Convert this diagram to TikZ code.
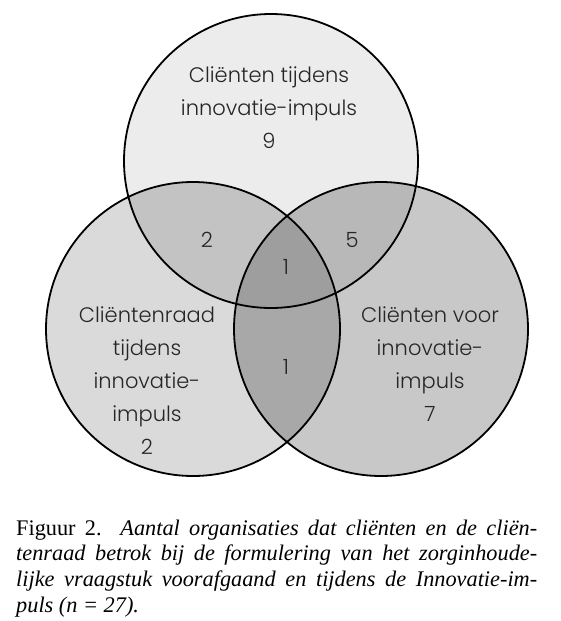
\documentclass[tikz,border=0pt]{standalone}
\usepackage{fontspec}
\newfontfamily\vennfont{Poppins Light}
\newfontfamily\capfont{Liberation Serif}
\usepackage{xcolor}
\usepackage{tikz}
\usetikzlibrary{positioning, calc}

\definecolor{topgray}{gray}{0.925}
\definecolor{leftgray}{gray}{0.855}
\definecolor{rightgray}{gray}{0.785}
\definecolor{topleftgray}{gray}{0.765}
\definecolor{toprightgray}{gray}{0.72}
\definecolor{leftrightgray}{gray}{0.66}
\definecolor{centergray}{gray}{0.62}

\tikzset{
  venntext/.style={font=\vennfont\fontsize{21}{33}\selectfont, text=black!85, align=center, inner sep=0pt},
  vennline/.style={draw=black, line width=1.8pt},
  caption/.style={font=\capfont\fontsize{22.3}{25.8}\selectfont, text width=521pt, align=justify, inner sep=0pt}
}

\begin{document}
\begin{tikzpicture}[x=1pt, y=-1pt]
\useasboundingbox (0,0) rectangle (561,621);
\def\rad{147pt}
\coordinate (topc) at (271,161);
\coordinate (leftc) at (193,329);
\coordinate (rightc) at (381,329);

% set fills
\fill[topgray] (topc) circle (\rad);
\fill[leftgray] (leftc) circle (\rad);
\fill[rightgray] (rightc) circle (\rad);
\begin{scope}
  \clip (topc) circle (\rad);
  \fill[topleftgray] (leftc) circle (\rad);
  \fill[toprightgray] (rightc) circle (\rad);
\end{scope}
\begin{scope}
  \clip (leftc) circle (\rad);
  \fill[leftrightgray] (rightc) circle (\rad);
  \clip (topc) circle (\rad);
  \fill[centergray] (rightc) circle (\rad);
\end{scope}
\foreach \c in {topc, leftc, rightc}
  \draw[vennline] (\c) circle (\rad);

% labels
\node[venntext] (toplabel) at (269,108) {Cliënten tijdens\\innovatie-impuls\\9};
\node[venntext] (leftlabel) at (147,381) {Cliëntenraad\\tijdens\\innovatie-\\impuls\\2};
\node[venntext] (rightlabel) at (430,364) {Cliënten voor\\innovatie-\\impuls\\7};
\node[venntext] (tl) at (207,240) {2};
\node[venntext] (tr) at (352,240) {5};
\node[venntext] (tlr) at (286,267) {1};
\node[venntext] (lr) at (286,367) {1};

\node[caption, anchor=base west] (cap) at (16,535) {\hyphenpenalty=10000 Figuur 2. \textit{Aantal organisaties dat cliënten en de cliën-\linebreak tenraad betrok bij de formulering van het zorginhoude-\linebreak lijke vraagstuk voorafgaand en tijdens de Innovatie-im-\linebreak puls (n = 27).}};
\end{tikzpicture}
\end{document}
